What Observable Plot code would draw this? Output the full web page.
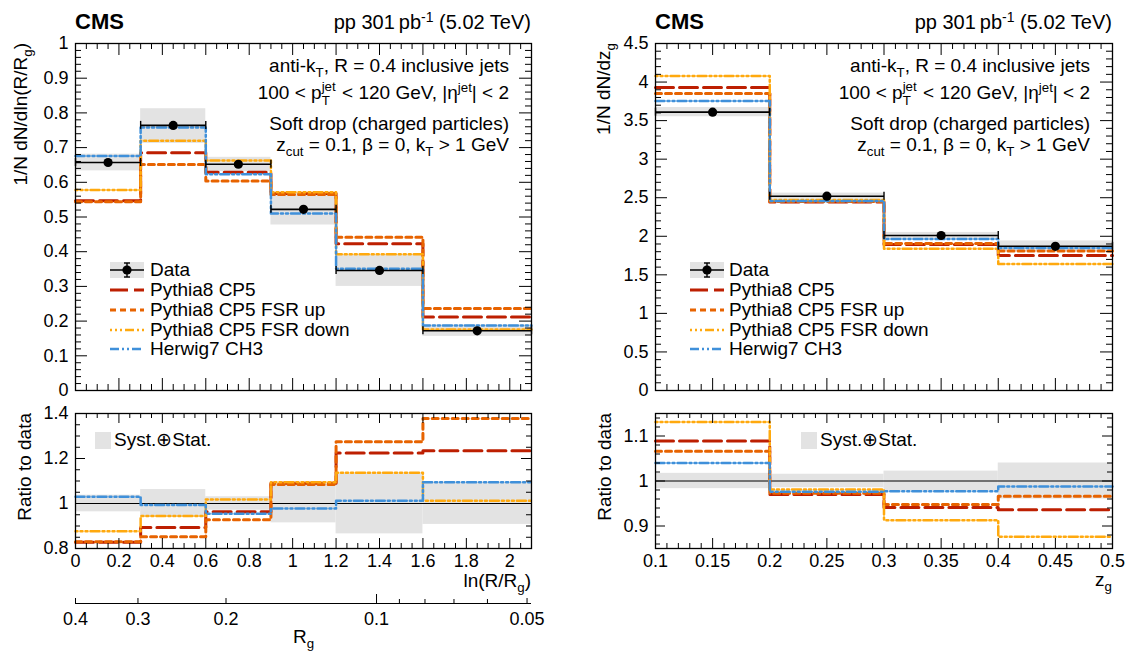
<!DOCTYPE html>
<html><head><meta charset="utf-8">
<script src="https://cdn.jsdelivr.net/npm/d3@7"></script>
<script src="https://cdn.jsdelivr.net/npm/@observablehq/plot@0.6"></script>
<style>
body{margin:0;background:#fff;}
#root{position:relative;width:1126px;height:655px;overflow:hidden;font-family:"Liberation Sans",Arial,Helvetica,sans-serif;color:#000;}
.abs{position:absolute;white-space:nowrap;color:#000;}
.st{position:relative;display:inline-block;width:0.8em;height:1em;}
.st .u{position:absolute;left:0;top:0;font-size:0.7em;line-height:1;}
.st .d{position:absolute;left:0;top:1.08em;font-size:0.7em;line-height:1;}
.sb{font-size:0.7em;position:relative;top:0.35em;}
.sp{font-size:0.7em;position:relative;top:-0.5em;}
</style></head><body><div id="root"></div>
<script>
// ---------------- data ----------------
const seriesNames = ["Pythia8 CP5", "Pythia8 CP5 FSR up", "Pythia8 CP5 FSR down", "Herwig7 CH3"];

// ln(R/Rg) distribution
const rgEdges   = [0, 0.3, 0.6, 0.9, 1.2, 1.6, 2.1];
const rgData    = [0.657, 0.764, 0.652, 0.522, 0.346, 0.172];
const rgBandLo  = [0.633, 0.712, 0.631, 0.477, 0.300, 0.156];
const rgBandHi  = [0.681, 0.812, 0.672, 0.569, 0.392, 0.189];
const rgCP5     = [0.547, 0.685, 0.629, 0.568, 0.423, 0.212];
const rgFSRup   = [0.544, 0.651, 0.604, 0.565, 0.442, 0.236];
const rgFSRdown = [0.578, 0.720, 0.663, 0.571, 0.393, 0.176];
const rgHerwig  = [0.676, 0.758, 0.623, 0.510, 0.351, 0.187];
// ratio to data
const rgRatioCP5     = [0.828, 0.893, 0.963, 1.090, 1.225, 1.235];
const rgRatioFSRup   = [0.830, 0.852, 0.928, 1.085, 1.275, 1.378];
const rgRatioFSRdown = [0.877, 0.944, 1.018, 1.095, 1.137, 1.012];
const rgRatioHerwig  = [1.030, 0.993, 0.955, 0.978, 1.012, 1.095];
const rgRatioBandLo  = [0.963, 0.938, 0.970, 0.914, 0.865, 0.907];
const rgRatioBandHi  = [1.037, 1.062, 1.030, 1.088, 1.135, 1.095];

// z_g distribution
const zgEdges   = [0.1, 0.2, 0.3, 0.4, 0.5];
const zgData    = [3.61, 2.52, 2.01, 1.87];
const zgBandLo  = [3.55, 2.48, 1.97, 1.80];
const zgBandHi  = [3.67, 2.56, 2.05, 1.94];
const zgCP5     = [3.93, 2.445, 1.893, 1.750];
const zgFSRup   = [3.85, 2.452, 1.906, 1.808];
const zgFSRdown = [4.08, 2.470, 1.838, 1.640];
const zgHerwig  = [3.755, 2.458, 1.965, 1.848];
const zgRatioCP5     = [1.089, 0.970, 0.941, 0.936];
const zgRatioFSRup   = [1.066, 0.973, 0.948, 0.966];
const zgRatioFSRdown = [1.131, 0.981, 0.913, 0.876];
const zgRatioHerwig  = [1.040, 0.976, 0.977, 0.988];
const zgRatioBandLo  = [0.983, 0.985, 0.978, 0.960];
const zgRatioBandHi  = [1.017, 1.015, 1.022, 1.040];

// R_g secondary axis tick labels
const rgAxisMajor = [0.4, 0.3, 0.2, 0.1, 0.05];
const rgAxisMinor = [0.09, 0.08, 0.07, 0.06];
const jetRadius = 0.4;

// ---------------- styles ----------------
const STYLE = {
  "Pythia8 CP5":          {stroke: "#bd1f01", dash: "18,6", w: 3},
  "Pythia8 CP5 FSR up":   {stroke: "#e76300", dash: "6,4", w: 3},
  "Pythia8 CP5 FSR down": {stroke: "#ffa90e", dash: "2,3,2,3,2,3,9,3", w: 2.5},
  "Herwig7 CH3":          {stroke: "#3f90da", dash: "9,3,2,3,2,3", w: 2.5}
};
const BAND = "#e3e3e3";
const FONT = '"Liberation Sans", Arial, Helvetica, sans-serif';
const fmt = d3.format("~g");
const root = document.getElementById("root");

function steps(edges, vals) {
  const pts = vals.map((v, i) => ({x: edges[i], y: v}));
  pts.push({x: edges[edges.length - 1], y: vals[vals.length - 1]});
  return pts;
}
function bins(edges, vals, lo, hi) {
  return vals.map((v, i) => ({x1: edges[i], x2: edges[i + 1], xc: (edges[i] + edges[i + 1]) / 2, v, lo: lo[i], hi: hi[i]}));
}
function tickSet(start, stop, minorStep, majorStep) {
  const all = d3.range(start, stop + minorStep / 2, minorStep).map(d => +d.toFixed(6));
  const isMaj = d => Math.abs(d / majorStep - Math.round(d / majorStep)) < 1e-6;
  return {major: all.filter(isMaj), minor: all.filter(d => !isMaj(d))};
}
function frameTicks(xt, yt, iw, ih, L, l) {
  const m = [];
  for (const [arr, len] of [[xt.major, L], [xt.minor, l]]) {
    m.push(Plot.tickX(arr, {x: d => d, insetTop: ih - len, stroke: "black"}));
    m.push(Plot.tickX(arr, {x: d => d, insetBottom: ih - len, stroke: "black"}));
  }
  for (const [arr, len] of [[yt.major, L], [yt.minor, l]]) {
    m.push(Plot.tickY(arr, {y: d => d, insetRight: iw - len, stroke: "black"}));
    m.push(Plot.tickY(arr, {y: d => d, insetLeft: iw - len, stroke: "black"}));
  }
  return m;
}
function seriesLines(edges, arrays) {
  return seriesNames.map((name, i) => Plot.line(steps(edges, arrays[i]), {
    x: "x", y: "y", curve: "step-after", stroke: STYLE[name].stroke,
    strokeWidth: STYLE[name].w, strokeDasharray: STYLE[name].dash
  }));
}
function place(node, left, top) {
  node.style.position = "absolute";
  node.style.left = left + "px";
  node.style.top = top + "px";
  root.appendChild(node);
}
function html(content, css) {
  const d = document.createElement("div");
  d.className = "abs";
  d.innerHTML = content;
  d.style.cssText += css;
  root.appendChild(d);
  return d;
}
function vtext(content, cx, topY, size) {
  const W = 320, LH = Math.round(size * 1.2);
  html(content, `width:${W}px;height:${LH}px;line-height:${LH}px;text-align:right;font-size:${size}px;transform-origin:0 0;transform:rotate(-90deg);left:${cx - LH / 2}px;top:${topY + W}px;`);
}

function mainPanel({left, width, ml, mr, xDomain, yDomain, xt, yt, edges, data, lo, hi, models}) {
  const height = 400, mt = 43, mb = 10;
  const iw = width - ml - mr, ih = height - mt - mb;
  const b = bins(edges, data, lo, hi);
  const svg = Plot.plot({
    width, height, marginLeft: ml, marginRight: mr, marginTop: mt, marginBottom: mb,
    style: {fontFamily: FONT, fontSize: "18px", background: "transparent", overflow: "visible"},
    x: {domain: xDomain, axis: null},
    y: {domain: yDomain},
    marks: [
      Plot.rect(b, {x1: "x1", x2: "x2", y1: "lo", y2: "hi", fill: BAND}),
      ...seriesLines(edges, models),
      Plot.link(b, {x1: "x1", x2: "x2", y1: "v", y2: "v", stroke: "black", strokeWidth: 1.6}),
      Plot.ruleX(b, {x: "x1", y1: "v", y2: "v", insetTop: -4, insetBottom: -4, stroke: "black", strokeWidth: 1.4}),
      Plot.ruleX(b, {x: "x2", y1: "v", y2: "v", insetTop: -4, insetBottom: -4, stroke: "black", strokeWidth: 1.4}),
      Plot.dot(b, {x: "xc", y: "v", r: 4.6, fill: "black", stroke: "none"}),
      ...frameTicks(xt, yt, iw, ih, 12, 6),
      Plot.axisY({ticks: yt.major, tickSize: 0, tickPadding: 7, tickFormat: fmt, label: null}),
      Plot.frame({stroke: "black", strokeWidth: 1.3})
    ]
  });
  place(svg, left, 0);
}
function ratioPanel({left, width, ml, mr, xDomain, yDomain, xt, yt, edges, lo, hi, models}) {
  const height = 190, mt = 13, mb = 42;
  const iw = width - ml - mr, ih = height - mt - mb;
  const b = edges.slice(0, -1).map((e, i) => ({x1: e, x2: edges[i + 1], lo: lo[i], hi: hi[i]}));
  const svg = Plot.plot({
    width, height, marginLeft: ml, marginRight: mr, marginTop: mt, marginBottom: mb,
    style: {fontFamily: FONT, fontSize: "18px", background: "transparent", overflow: "visible"},
    x: {domain: xDomain},
    y: {domain: yDomain},
    marks: [
      Plot.rect(b, {x1: "x1", x2: "x2", y1: "lo", y2: "hi", fill: BAND}),
      Plot.ruleY([1], {stroke: "black", strokeWidth: 1.2}),
      ...seriesLines(edges, models),
      ...frameTicks(xt, yt, iw, ih, 10, 5),
      Plot.axisY({ticks: yt.major, tickSize: 0, tickPadding: 7, tickFormat: fmt, label: null}),
      Plot.axisX({ticks: xt.major, tickSize: 0, tickPadding: 6, tickFormat: fmt, label: null}),
      Plot.frame({stroke: "black", strokeWidth: 1.3})
    ]
  });
  place(svg, left, 400);
}

// ---------------- left (ln R/Rg) ----------------
const lxt = tickSet(0, 2.1, 0.05, 0.2);
mainPanel({left: 0, width: 560, ml: 75, mr: 29, xDomain: [0, 2.1], yDomain: [0, 1],
  xt: lxt, yt: tickSet(0, 1, 0.02, 0.1), edges: rgEdges, data: rgData, lo: rgBandLo, hi: rgBandHi,
  models: [rgCP5, rgFSRup, rgFSRdown, rgHerwig]});
ratioPanel({left: 0, width: 560, ml: 75, mr: 29, xDomain: [0, 2.1], yDomain: [0.8, 1.4],
  xt: lxt, yt: tickSet(0.8, 1.4, 0.05, 0.2), edges: rgEdges, lo: rgRatioBandLo, hi: rgRatioBandHi,
  models: [rgRatioCP5, rgRatioFSRup, rgRatioFSRdown, rgRatioHerwig]});

// secondary R_g axis (log scale, equivalent to ln(R/Rg))
{
  const ih = 10;
  const svg = Plot.plot({
    width: 560, height: 65, marginLeft: 75, marginRight: 29, marginTop: 3, marginBottom: 52,
    style: {fontFamily: FONT, fontSize: "18px", background: "transparent", overflow: "visible"},
    x: {type: "log", domain: [jetRadius, jetRadius * Math.exp(-2.1)]},
    y: {domain: [0, 1], axis: null},
    marks: [
      Plot.ruleY([0], {stroke: "black", strokeWidth: 1.2}),
      Plot.tickX(rgAxisMajor.filter(d => d !== 0.1), {x: d => d, insetTop: ih - 5, stroke: "black"}),
      Plot.tickX([0.1], {x: d => d, insetTop: ih - 9, stroke: "black"}),
      Plot.tickX(rgAxisMinor, {x: d => d, insetTop: ih - 4, stroke: "black"}),
      Plot.axisX({ticks: rgAxisMajor, tickSize: 0, tickPadding: 9, tickFormat: d => String(d), label: null})
    ]
  });
  place(svg, 0, 590);
}

// ---------------- right (z_g) ----------------
const rxt = tickSet(0.1, 0.5, 0.01, 0.05);
mainPanel({left: 560, width: 566, ml: 95, mr: 14, xDomain: [0.1, 0.5], yDomain: [0, 4.5],
  xt: rxt, yt: tickSet(0, 4.5, 0.1, 0.5), edges: zgEdges, data: zgData, lo: zgBandLo, hi: zgBandHi,
  models: [zgCP5, zgFSRup, zgFSRdown, zgHerwig]});
ratioPanel({left: 560, width: 566, ml: 95, mr: 14, xDomain: [0.1, 0.5], yDomain: [0.85, 1.15],
  xt: rxt, yt: tickSet(0.86, 1.14, 0.02, 0.1), edges: zgEdges, lo: zgRatioBandLo, hi: zgRatioBandHi,
  models: [zgRatioCP5, zgRatioFSRup, zgRatioFSRdown, zgRatioHerwig]});

// ---------------- texts ----------------
function headers(frameLeft, frameRight) {
  html("CMS", `left:${frameLeft}px;top:9px;font-size:22px;font-weight:bold;line-height:26px;`);
  html('pp 301&#8201;pb<span class="sp">-1</span> (5.02 TeV)', `right:${1126 - frameRight}px;top:10px;font-size:20px;line-height:24px;`);
  const r = 1126 - (frameRight - 22);
  const lines = [
    ['anti-k<span class="sb">T</span>, R = 0.4 inclusive jets', 66, 20],
    ['100 &lt; p<span class="st"><span class="u">jet</span><span class="d">T</span></span> &lt; 120 GeV, |&eta;<span class="sp">jet</span>| &lt; 2', 90, 20],
    ['Soft drop (charged particles)', 124, 22],
    ['z<span class="sb">cut</span> = 0.1, &beta; = 0, k<span class="sb">T</span> &gt; 1 GeV', 145, 20]
  ];
  for (const [t, cy, lh] of lines) html(t, `right:${r}px;top:${cy - lh / 2}px;font-size:19px;line-height:${lh}px;`);
}
headers(75, 531);
headers(655, 1112);

vtext('1/N dN/dln(R/R<span class="sb">g</span>)', 20, 43, 19);
vtext('Ratio to data', 24, 413, 19);
vtext('1/N dN/dz<span class="sb">g</span>', 603, 43, 19);
vtext('Ratio to data', 604, 413, 19);

html('ln(R/R<span class="sb">g</span>)', `right:${1126 - 531}px;top:570px;font-size:19px;line-height:22px;`);
html('z<span class="sb">g</span>', `right:${1126 - 1112}px;top:569px;font-size:19px;line-height:22px;`);
html('R<span class="sb">g</span>', `left:293px;top:627px;font-size:19px;line-height:20px;`);

// legends
function legend(symX, textX) {
  const rowY = [270, 290, 310, 330, 349];
  const ns = "http://www.w3.org/2000/svg";
  const mk = (tag, attrs, parent) => { const e = document.createElementNS(ns, tag); for (const k in attrs) e.setAttribute(k, attrs[k]); parent.appendChild(e); return e; };
  const labels = ["Data", ...seriesNames];
  labels.forEach((lab, i) => {
    const svg = document.createElementNS(ns, "svg");
    svg.setAttribute("width", 36); svg.setAttribute("height", 20);
    if (i === 0) {
      mk("rect", {x: 0, y: 2, width: 34, height: 16, fill: BAND}, svg);
      mk("line", {x1: 0, x2: 34, y1: 10, y2: 10, stroke: "black", "stroke-width": 1.6}, svg);
      mk("line", {x1: 17, x2: 17, y1: 3, y2: 17, stroke: "black", "stroke-width": 1.4}, svg);
      mk("line", {x1: 14, x2: 20, y1: 3, y2: 3, stroke: "black", "stroke-width": 1.4}, svg);
      mk("line", {x1: 14, x2: 20, y1: 17, y2: 17, stroke: "black", "stroke-width": 1.4}, svg);
      mk("circle", {cx: 17, cy: 10, r: 4.6, fill: "black"}, svg);
    } else {
      const s = STYLE[lab];
      mk("line", {x1: 0, x2: 34, y1: 10, y2: 10, stroke: s.stroke, "stroke-width": s.w, "stroke-dasharray": s.dash}, svg);
    }
    place(svg, symX, rowY[i] - 10);
    html(lab, `left:${textX}px;top:${rowY[i] - 10}px;font-size:19px;line-height:20px;`);
  });
}
legend(110, 150);
legend(690, 729);

function systLegend(boxX, textX) {
  html("", `left:${boxX}px;top:432px;width:16px;height:17px;background:${BAND};`);
  html("Syst.&oplus;Stat.", `left:${textX}px;top:429px;font-size:19px;line-height:22px;`);
}
systLegend(95, 114);
systLegend(801, 820);
</script></body></html>
